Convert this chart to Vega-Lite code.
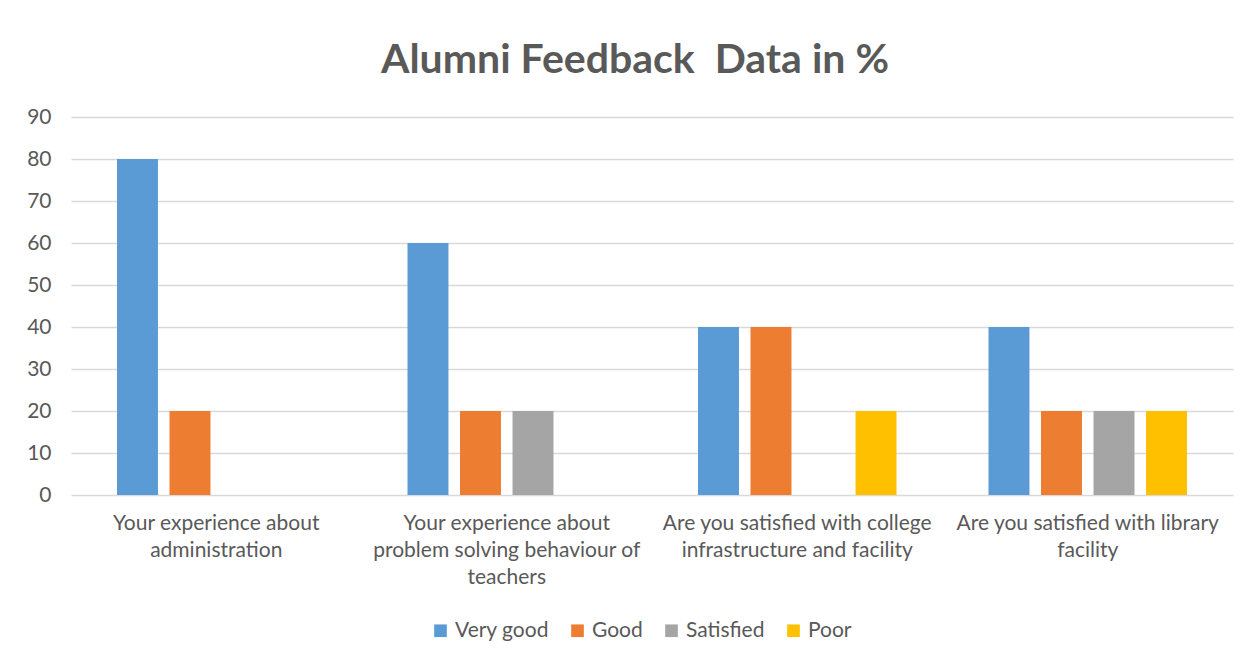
{
  "$schema": "https://vega.github.io/schema/vega-lite/v6.json",
  "autosize": "none",
  "width": 1162,
  "height": 378,
  "padding": {"left": 71, "top": 117, "right": 26, "bottom": 163},
  "background": "white",
  "title": {
    "text": "Alumni Feedback\u00a0 Data in %",
    "fontSize": 41,
    "fontWeight": "bold",
    "font": "Lato",
    "color": "#595959",
    "anchor": "middle",
    "dx": -17,
    "offset": 24
  },
  "data": {
    "values": [
      {"question": "Your experience about|administration", "rating": "Very good", "percent": 80},
      {"question": "Your experience about|administration", "rating": "Good", "percent": 20},
      {"question": "Your experience about|problem solving behaviour of|teachers", "rating": "Very good", "percent": 60},
      {"question": "Your experience about|problem solving behaviour of|teachers", "rating": "Good", "percent": 20},
      {"question": "Your experience about|problem solving behaviour of|teachers", "rating": "Satisfied", "percent": 20},
      {"question": "Are you satisfied with college|infrastructure and facility", "rating": "Very good", "percent": 40},
      {"question": "Are you satisfied with college|infrastructure and facility", "rating": "Good", "percent": 40},
      {"question": "Are you satisfied with college|infrastructure and facility", "rating": "Poor", "percent": 20},
      {"question": "Are you satisfied with library|facility", "rating": "Very good", "percent": 40},
      {"question": "Are you satisfied with library|facility", "rating": "Good", "percent": 20},
      {"question": "Are you satisfied with library|facility", "rating": "Satisfied", "percent": 20},
      {"question": "Are you satisfied with library|facility", "rating": "Poor", "percent": 20}
    ]
  },
  "mark": {"type": "bar"},
  "encoding": {
    "x": {
      "field": "question",
      "type": "nominal",
      "sort": null,
      "scale": {"paddingInner": 0, "paddingOuter": 0},
      "axis": {
        "title": null,
        "labelAngle": 0,
        "labelExpr": "split(datum.label, '|')",
        "labelFont": "Lato",
        "labelFontSize": 21,
        "labelColor": "#595959",
        "labelLineHeight": 27,
        "labelPadding": 17,
        "labelLimit": 400,
        "domain": false,
        "ticks": false
      }
    },
    "xOffset": {
      "field": "rating",
      "type": "nominal",
      "scale": {"domain": ["Very good", "Good", "Satisfied", "Poor"], "paddingInner": 0.22, "paddingOuter": 0.876}
    },
    "y": {
      "field": "percent",
      "type": "quantitative",
      "scale": {"domain": [0, 90], "nice": false},
      "axis": {
        "title": null,
        "values": [0, 10, 20, 30, 40, 50, 60, 70, 80, 90],
        "domain": false,
        "ticks": false,
        "labelFont": "Lato",
        "labelFontSize": 21,
        "labelColor": "#595959",
        "labelPadding": 20,
        "gridColor": "#D9D9D9",
        "gridWidth": 1.5
      }
    },
    "color": {
      "field": "rating",
      "type": "nominal",
      "scale": {
        "domain": ["Very good", "Good", "Satisfied", "Poor"],
        "range": ["#5B9BD5", "#ED7D31", "#A5A5A5", "#FFC000"]
      },
      "legend": {
        "title": null,
        "orient": "none",
        "direction": "horizontal",
        "legendX": 359,
        "legendY": 503,
        "symbolType": "square",
        "symbolSize": 160,
        "symbolStrokeWidth": 0,
        "labelFont": "Lato",
        "labelFontSize": 21,
        "labelColor": "#595959",
        "columnPadding": 18,
        "labelOffset": 4
      }
    }
  },
  "config": {"view": {"stroke": null}}
}
